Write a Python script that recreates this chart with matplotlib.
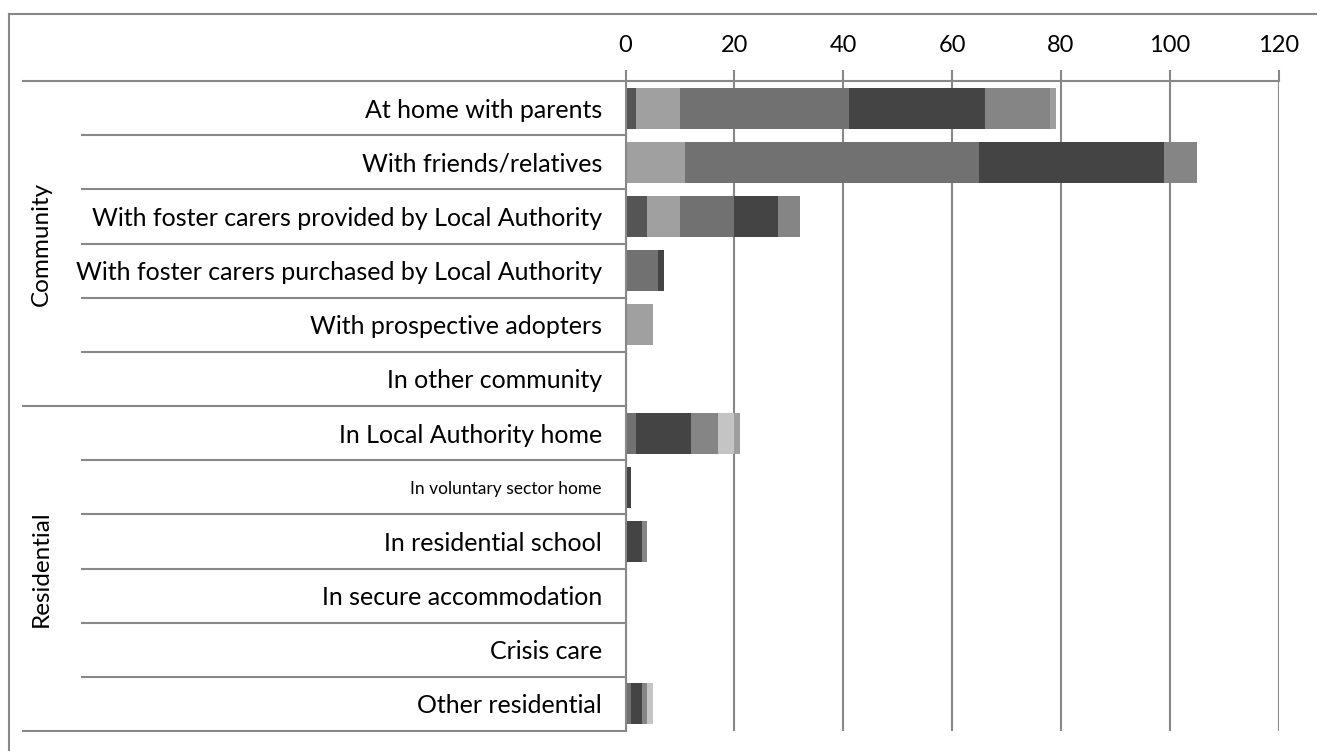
import matplotlib
matplotlib.use("Agg")
import matplotlib.pyplot as plt
import matplotlib.transforms as mtransforms
from matplotlib.lines import Line2D
import numpy as np

plt.rcParams['font.family'] = ['Lato', 'DejaVu Sans']

categories = [
    "At home with parents",
    "With friends/relatives",
    "With foster carers provided by Local Authority",
    "With foster carers purchased by Local Authority",
    "With prospective adopters",
    "In other community",
    "In Local Authority home",
    "In voluntary sector home",
    "In residential school",
    "In secure accommodation",
    "Crisis care",
    "Other residential",
]
groups = ["Community", "Residential"]
group_sizes = [6, 6]

# stacked series (unnamed in the source chart)
s1 = [2, 0, 4, 0, 0, 0, 0, 0, 0, 0, 0, 0]
s2 = [8, 11, 6, 0, 5, 0, 0, 0, 0, 0, 0, 0]
s3 = [31, 54, 10, 6, 0, 0, 2, 0, 0, 0, 0, 1]
s4 = [25, 34, 8, 1, 0, 0, 10, 1, 3, 0, 0, 2]
s5 = [12, 6, 4, 0, 0, 0, 5, 0, 1, 0, 0, 1]
s6 = [0, 0, 0, 0, 0, 0, 3, 0, 0, 0, 0, 1]
s7 = [1, 0, 0, 0, 0, 0, 1, 0, 0, 0, 0, 0]
series = [s1, s2, s3, s4, s5, s6, s7]
colors = ["#555555", "#a0a0a0", "#717171", "#444444", "#858585", "#c4c4c4", "#9e9e9e"]

xticks = [0, 20, 40, 60, 80, 100, 120]

W, H = 1323, 751
fig = plt.figure(figsize=(W / 100, H / 100), dpi=100)
x0, x1 = 625.5, 1278.7
y0, y1 = 81, 731
ax = fig.add_axes([x0 / W, 1 - y1 / H, (x1 - x0) / W, (y1 - y0) / H])

ypos = np.arange(len(categories))
left = np.zeros(len(categories))
for vals, c in zip(series, colors):
    ax.barh(ypos, vals, left=left, height=0.76, color=c, linewidth=0, zorder=3)
    left += np.array(vals)

ax.set_xlim(0, 120)
ax.set_ylim(len(categories) - 0.5, -0.5)
ax.set_xticks(xticks)
ax.xaxis.tick_top()
ax.tick_params(axis='x', length=8, width=1.5, color="#888888", labelsize=17, pad=10)
ax.set_yticks(ypos)
ax.set_yticklabels(categories, fontsize=18)
for lbl in ax.get_yticklabels():
    if lbl.get_text() == "In voluntary sector home":
        lbl.set_fontsize(12.5)
ax.tick_params(axis='y', length=0, pad=17)
ax.grid(axis='x', color="#888888", linewidth=1.5, zorder=0)
for sp in ["top", "right", "bottom"]:
    ax.spines[sp].set_visible(False)
ax.spines["left"].set_color("#888888")
ax.spines["left"].set_linewidth(1.5)
ax.spines["left"].set_zorder(4)

trans = mtransforms.blended_transform_factory(ax.transAxes, ax.transData)
inner_x = (82 - x0) / (x1 - x0)
outer_x = (23 - x0) / (x1 - x0)
# row separators
for i in range(1, len(categories)):
    xs = inner_x
    if i == group_sizes[0]:
        xs = outer_x
    ax.add_line(Line2D([xs, 0], [i - 0.5, i - 0.5], transform=trans, color="#888888",
                       linewidth=1.5, clip_on=False))
ax.add_line(Line2D([outer_x, 1], [-0.5, -0.5], transform=trans, color="#888888",
                   linewidth=1.5, clip_on=False))
ax.add_line(Line2D([outer_x, 0], [len(categories) - 0.5] * 2, transform=trans,
                   color="#888888", linewidth=1.5, clip_on=False))

# group labels
start = 0
gx = (41 - x0) / (x1 - x0)
for g, n in zip(groups, group_sizes):
    ax.text(gx, start + n / 2 - 0.5, g, transform=trans, rotation=90, ha='center',
            va='center', fontsize=17.5)
    start += n

# outer chart border (top and left)
fig.add_artist(Line2D([9 / W, 1316 / W], [1 - 14 / H, 1 - 14 / H], color="#888888",
                      linewidth=1.5))
fig.add_artist(Line2D([9 / W, 9 / W], [1 - 14 / H, 0], color="#888888", linewidth=1.5))

fig.savefig("out.png", dpi=100)
